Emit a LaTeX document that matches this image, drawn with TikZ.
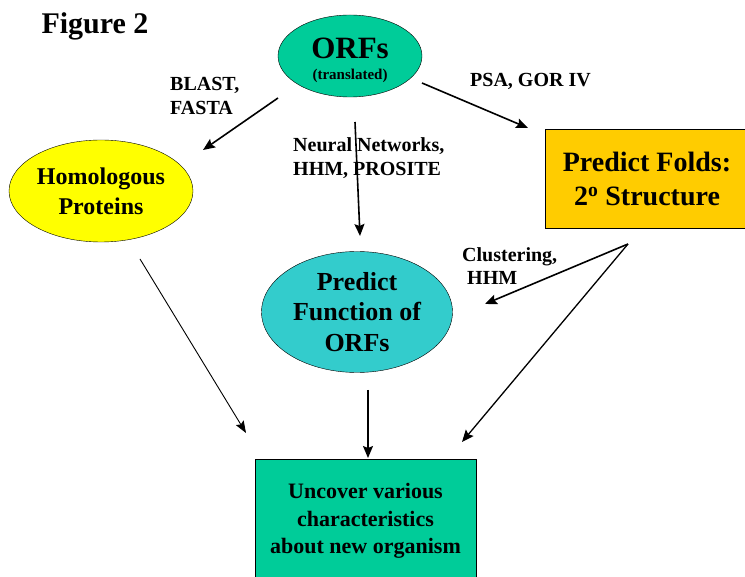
\documentclass[tikz,border=0pt]{standalone}
\usepackage{fontspec}
\setmainfont{Liberation Serif}
\usetikzlibrary{arrows.meta,shapes.geometric}
\definecolor{orfgreen}{RGB}{0,204,153}
\definecolor{funccyan}{RGB}{51,204,204}
\definecolor{foldgold}{RGB}{255,204,0}
\definecolor{homyellow}{RGB}{255,255,0}

\begin{document}
\begin{tikzpicture}[x=1pt, y=-1pt,
  oval/.style={draw, ellipse, inner sep=0pt, align=center, font=\bfseries},
  box/.style={draw, rectangle, inner sep=0pt, align=center, font=\bfseries},
  lab/.style={anchor=west, align=left, inner sep=0pt, font=\fontsize{20}{24}\selectfont\bfseries},
  arr/.style={-{Stealth[length=12pt, width=10pt, inset=2pt]}, line width=1.6pt},
  thin arr/.style={-{Stealth[length=12pt, width=9pt, inset=2pt]}, line width=0.9pt}
]
\useasboundingbox (0,0) rectangle (745,577);
\clip (0,0) rectangle (745,577);

% title
\node[font=\fontsize{30}{32}\selectfont\bfseries] (title) at (95,26) {Figure 2};

% nodes
\node[oval, fill=orfgreen, minimum width=144, minimum height=82] (orfs) at (350,56) {};
\node[font=\fontsize{31}{32}\selectfont\bfseries, inner sep=0pt] (orfs-t) at (350,48) {ORFs};
\node[font=\fontsize{15}{16}\selectfont\bfseries, inner sep=0pt] (orfs-s) at (350,76) {(translated)};
\node[oval, fill=homyellow, minimum width=184, minimum height=102,
  font=\fontsize{24}{30}\selectfont\bfseries] (homol) at (101,191) {Homologous\\Proteins};
\node[box, fill=foldgold, minimum width=204, minimum height=99,
  font=\fontsize{28}{34}\selectfont\bfseries] (folds) at (647,179) {Predict Folds:\\2\textsuperscript{o} Structure};
\node[oval, fill=funccyan, minimum width=191, minimum height=121,
  font=\fontsize{26}{30.5}\selectfont\bfseries] (func) at (357,312) {Predict\\Function of\\ORFs};
\node[box, fill=orfgreen, minimum width=221, minimum height=124,
  font=\fontsize{22}{27.5}\selectfont\bfseries] (uncover) at (365.5,521) {Uncover various\\characteristics\\about new organism};

% labels
\node[lab] (blast) at (170,96) {BLAST,\\FASTA};
\node[lab] (neural) at (293,158) {Neural Networks,\\HHM, PROSITE};
\node[lab] (psa) at (470,81) {PSA, GOR IV};
\node[lab, font=\fontsize{20}{23}\selectfont\bfseries] (clust) at (462,266) {Clustering,\\\hspace{5pt}HHM};

% connector ends
\coordinate (orfs-w) at (278,98);
\coordinate (homol-ne) at (203,150);
\coordinate (orfs-s) at (355,122);
\coordinate (func-n) at (360,236);
\coordinate (orfs-e) at (422,83);
\coordinate (folds-nw) at (528,128);
\coordinate (folds-s) at (628,244);
\coordinate (func-e) at (485,304);
\coordinate (uncover-ne) at (462,442);
\coordinate (homol-s) at (140,259);
\coordinate (uncover-nw) at (246,433);
\coordinate (func-s) at (368,390);
\coordinate (uncover-n) at (368,458);

% connectors
\draw[arr] (orfs-w) -- (homol-ne);
\draw[arr] (orfs-s) -- (func-n);
\draw[arr] (orfs-e) -- (folds-nw);
\draw[arr] (folds-s) -- (func-e);
\draw[arr, line width=1.3pt] (folds-s) -- (uncover-ne);
\draw[thin arr] (homol-s) -- (uncover-nw);
\draw[arr, line width=1.3pt] (func-s) -- (uncover-n);
\end{tikzpicture}
\end{document}
